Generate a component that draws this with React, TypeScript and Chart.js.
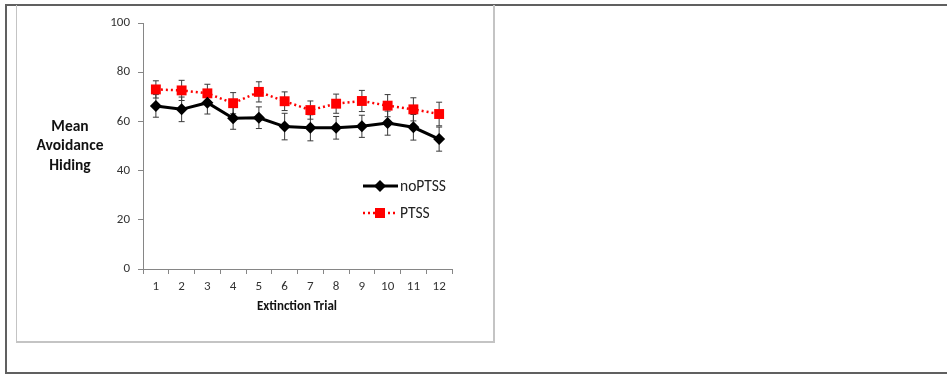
import React, { useEffect, useRef } from "react";
import { Chart, registerables } from "chart.js";

Chart.register(...registerables);

const trials = ["1", "2", "3", "4", "5", "6", "7", "8", "9", "10", "11", "12"];
const noPTSS = [66.3, 64.9, 67.6, 61.3, 61.5, 57.9, 57.4, 57.4, 58.0, 59.3, 57.6, 52.8];
const noPTSSErr = [4.6, 5.0, 4.6, 4.5, 4.4, 5.4, 5.3, 4.6, 4.5, 4.9, 5.2, 4.9];
const ptss = [73.0, 72.6, 71.4, 67.4, 72.0, 68.2, 64.6, 67.2, 68.3, 66.4, 64.9, 63.0];
const ptssErr = [3.5, 4.1, 3.7, 4.3, 4.1, 3.8, 3.7, 3.9, 4.3, 4.5, 4.7, 4.8];
const yTitleLines = ["Mean", "Avoidance", "Hiding"];
const xTitle = "Extinction Trial";
const seriesNames = ["noPTSS", "PTSS"];

const FONT = "Carlito, Lato, 'Open Sans', sans-serif";

const extrasPlugin = {
  id: "extras",
  beforeDatasetsDraw(chart: any) {
    const ctx = chart.ctx;
    const xs = chart.scales.x;
    const ys = chart.scales.y;
    const errs = [noPTSSErr, ptssErr];
    ctx.save();
    ctx.strokeStyle = "#3a3a3a";
    ctx.lineWidth = 1;
    chart.data.datasets.forEach((ds: any, di: number) => {
      ds.data.forEach((v: number, i: number) => {
        const x = xs.getPixelForValue(i);
        const yT = ys.getPixelForValue(v + errs[di][i]);
        const yB = ys.getPixelForValue(v - errs[di][i]);
        ctx.beginPath();
        ctx.moveTo(x, yT);
        ctx.lineTo(x, yB);
        ctx.moveTo(x - 3, yT);
        ctx.lineTo(x + 3, yT);
        ctx.moveTo(x - 3, yB);
        ctx.lineTo(x + 3, yB);
        ctx.stroke();
      });
    });
    ctx.restore();
  },
  afterDraw(chart: any) {
    const ctx = chart.ctx;
    ctx.save();
    ctx.fillStyle = "#111";
    ctx.textAlign = "center";
    ctx.textBaseline = "middle";
    ctx.font = `bold 15.5px ${FONT}`;
    const ly = [127, 146, 166];
    yTitleLines.forEach((t, i) => ctx.fillText(t, 70, ly[i]));
    ctx.font = `bold 13px ${FONT}`;
    ctx.fillText(xTitle, 297, 307);

    // legend
    const ds0 = chart.data.datasets[0];
    const ds1 = chart.data.datasets[1];
    ctx.lineWidth = 3;
    ctx.strokeStyle = ds0.borderColor;
    ctx.beginPath();
    ctx.moveTo(363, 186);
    ctx.lineTo(398, 186);
    ctx.stroke();
    ctx.fillStyle = "#000";
    ctx.beginPath();
    ctx.moveTo(380, 180);
    ctx.lineTo(386, 186);
    ctx.lineTo(380, 192);
    ctx.lineTo(374, 186);
    ctx.closePath();
    ctx.fill();

    ctx.lineWidth = 2.5;
    ctx.strokeStyle = ds1.borderColor;
    ctx.setLineDash([2, 3]);
    ctx.beginPath();
    ctx.moveTo(363, 213);
    ctx.lineTo(398, 213);
    ctx.stroke();
    ctx.setLineDash([]);
    ctx.fillStyle = "#ff0000";
    ctx.fillRect(375, 208, 10, 10);

    ctx.fillStyle = "#222";
    ctx.textAlign = "left";
    ctx.font = `15.5px ${FONT}`;
    ctx.fillText(seriesNames[0], 400, 187);
    ctx.fillText(seriesNames[1], 400, 214);
    ctx.restore();
  },
};

export default function App() {
  const ref = useRef<HTMLCanvasElement>(null);
  useEffect(() => {
    if (!ref.current) return;
    const tickFont = { family: FONT, size: 13 };
    const chart = new Chart(ref.current, {
      type: "line",
      data: {
        labels: trials,
        datasets: [
          {
            label: seriesNames[0],
            data: noPTSS,
            borderColor: "#000000",
            backgroundColor: "#000000",
            borderWidth: 3,
            pointStyle: "rectRot",
            pointRadius: 6,
            pointBorderWidth: 0,
            tension: 0,
          },
          {
            label: seriesNames[1],
            data: ptss,
            borderColor: "#ff0000",
            backgroundColor: "#ff0000",
            borderWidth: 2.5,
            borderDash: [2, 3],
            pointStyle: "rect",
            pointRadius: 7,
            pointBorderWidth: 0,
            tension: 0,
          },
        ],
      },
      options: {
        responsive: false,
        animation: false,
        layout: { padding: { left: 0, top: 23, right: 495, bottom: 0 } },
        plugins: { legend: { display: false }, tooltip: { enabled: false } },
        scales: {
          x: {
            offset: true,
            grid: { display: true, drawOnChartArea: false, offset: true, tickLength: 5, color: "#868686" },
            border: { color: "#868686", width: 1 },
            ticks: { font: tickFont, color: "#333", padding: 5 },
            afterFit: (s: any) => { s.height = 108; },
          },
          y: {
            min: 0,
            max: 100,
            grid: { display: true, drawOnChartArea: false, tickLength: 5, color: "#868686" },
            border: { color: "#868686", width: 1 },
            ticks: { stepSize: 20, font: tickFont, color: "#333", padding: 8 },
            afterFit: (s: any) => { s.width = 143; },
          },
        },
      },
      plugins: [extrasPlugin],
    });
    return () => chart.destroy();
  }, []);

  return (
    <div style={{ position: "fixed", left: 0, top: 0, width: 947, height: 377, background: "#fff" }}>
      <div style={{ position: "absolute", left: 5, top: 4, width: 942, height: 370, borderTop: "2px solid #606060", borderLeft: "2px solid #606060", borderBottom: "2px solid #606060", boxSizing: "border-box" }} />
      <div style={{ position: "absolute", left: 16, top: 5, width: 479, height: 338, borderLeft: "1.5px solid #c4c4c4", borderRight: "2px solid #c4c4c4", borderBottom: "2px solid #c4c4c4", boxSizing: "border-box" }} />
      <canvas ref={ref} width={947} height={377} style={{ position: "absolute", left: 0, top: 0, width: 947, height: 377 }} />
    </div>
  );
}
